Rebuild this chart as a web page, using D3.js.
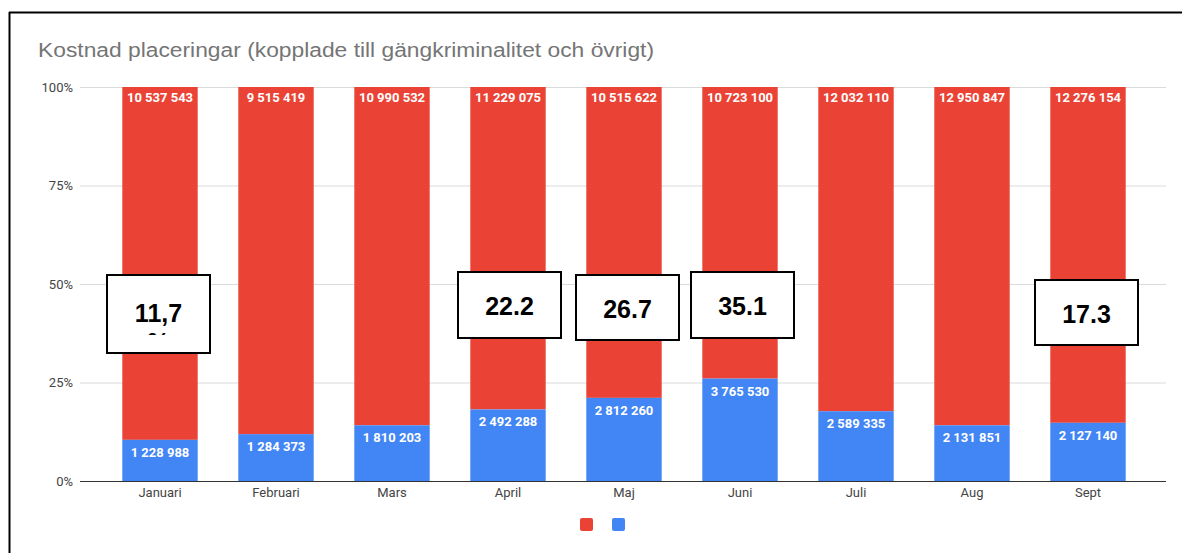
<!DOCTYPE html>
<html>
<head>
<meta charset="utf-8">
<style>
  html, body { margin: 0; padding: 0; background: #fff; }
  svg { display: block; font-family: Roboto, Arial, sans-serif; }
</style>
<script src="https://d3js.org/d3.v7.min.js"></script>
</head>
<body>
<div id="chart"></div>
<script>
var months = ["Januari", "Februari", "Mars", "April", "Maj", "Juni", "Juli", "Aug", "Sept"];
var red = [10537543, 9515419, 10990532, 11229075, 10515622, 10723100, 12032110, 12950847, 12276154];
var blue = [1228988, 1284373, 1810203, 2492288, 2812260, 3765530, 2589335, 2131851, 2127140];
var yTicks = [0, 0.25, 0.5, 0.75, 1];

// pasted-in boxes on top of the chart
var notes = [
  { month: "Januari", text: "11,7", x: 107, y: 275, w: 103, h: 78 },
  { month: "April", text: "22.2", x: 458, y: 272, w: 103, h: 66 },
  { month: "Maj", text: "26.7", x: 576, y: 275, w: 103, h: 65 },
  { month: "Juni", text: "35.1", x: 691, y: 272, w: 103, h: 66 },
  { month: "Sept", text: "17.3", x: 1035, y: 280, w: 103, h: 65 }
];

var w = 1182, h = 553;
var fmt = function(v) { return d3.format(",")(v).replace(/,/g, " "); };

var svg = d3.select("#chart").append("svg")
  .attr("width", w)
  .attr("height", h);

// frame of the screenshot
svg.append("line").attr("x1", 9).attr("x2", w).attr("y1", 12.5).attr("y2", 12.5)
  .attr("stroke", "#000").attr("stroke-width", 2);
svg.append("line").attr("x1", 9.5).attr("x2", 9.5).attr("y1", 12).attr("y2", h)
  .attr("stroke", "#000").attr("stroke-width", 2);

var title = svg.append("text")
  .attr("x", 38).attr("y", 57)
  .attr("fill", "#757575")
  .style("font-family", "'Liberation Sans', Arial, sans-serif")
  .style("font-size", "19.5px")
  .text("Kostnad placeringar (kopplade till gängkriminalitet och övrigt)");
title.attr("textLength", 616).attr("lengthAdjust", "spacingAndGlyphs");

var x = d3.scaleBand().domain(months).range([102, 1146]).paddingInner(0.35).paddingOuter(0.175);
var y = d3.scaleLinear().domain([0, 1]).range([481, 87]);

// grid
svg.append("g").selectAll("line").data(yTicks.slice(1)).enter().append("line")
  .attr("x1", 80).attr("x2", 1166)
  .attr("y1", d => y(d) + 0.5).attr("y2", d => y(d) + 0.5)
  .attr("stroke", "#dadada");

var yAxis = svg.append("g")
  .attr("transform", "translate(80,0)")
  .call(d3.axisLeft(y).tickValues(yTicks).tickFormat(d3.format(".0%")).tickSize(0).tickPadding(7));
yAxis.select(".domain").remove();
yAxis.selectAll("text").attr("fill", "#444").style("font-size", "13px").style("font-family", "Roboto, Arial, sans-serif");

var data = months.map((m, i) => ({ month: m, red: red[i], blue: blue[i], total: red[i] + blue[i] }));

var bars = svg.append("g").selectAll("g").data(data).enter().append("g");
bars.append("rect")
  .attr("x", d => x(d.month)).attr("width", x.bandwidth())
  .attr("y", y(1)).attr("height", d => y(d.blue / d.total) - y(1))
  .attr("fill", "#ea4335");
bars.append("rect")
  .attr("x", d => x(d.month)).attr("width", x.bandwidth())
  .attr("y", d => y(d.blue / d.total)).attr("height", d => y(0) - y(d.blue / d.total))
  .attr("fill", "#4285f4");
bars.append("text")
  .attr("x", d => x(d.month) + x.bandwidth() / 2)
  .attr("y", y(1) + 15)
  .attr("text-anchor", "middle").attr("fill", "#fff")
  .style("font-size", "13px").style("font-weight", "bold")
  .text(d => fmt(d.red));
bars.append("text")
  .attr("x", d => x(d.month) + x.bandwidth() / 2)
  .attr("y", d => y(d.blue / d.total) + 17)
  .attr("text-anchor", "middle").attr("fill", "#fff")
  .style("font-size", "13px").style("font-weight", "bold")
  .text(d => fmt(d.blue));

// baseline and month labels
svg.append("line").attr("x1", 80).attr("x2", 1166).attr("y1", y(0) + 0.5).attr("y2", y(0) + 0.5)
  .attr("stroke", "#333");
var xAxis = svg.append("g")
  .attr("transform", "translate(0," + y(0) + ")")
  .call(d3.axisBottom(x).tickSize(0).tickPadding(7));
xAxis.select(".domain").remove();
xAxis.selectAll("text").attr("fill", "#444").style("font-size", "13px").style("font-family", "Roboto, Arial, sans-serif");

// legend
svg.append("rect").attr("x", 580).attr("y", 518).attr("width", 13).attr("height", 13).attr("rx", 2).attr("fill", "#ea4335");
svg.append("rect").attr("x", 612).attr("y", 518).attr("width", 13).attr("height", 13).attr("rx", 2).attr("fill", "#4285f4");

// boxes
var defs = svg.append("defs");
var boxes = svg.append("g").selectAll("g").data(notes).enter().append("g");
boxes.each(function(d, i) {
  defs.append("clipPath").attr("id", "clip" + i)
    .append("rect").attr("x", d.x).attr("y", d.y).attr("width", d.w).attr("height", d.h - 18);
});
boxes.append("rect")
  .attr("x", d => d.x).attr("y", d => d.y).attr("width", d => d.w).attr("height", d => d.h)
  .attr("fill", "#fff").attr("stroke", "#000").attr("stroke-width", 2);
boxes.append("text")
  .attr("x", d => d.x + d.w / 2)
  .attr("y", d => d.month === "Januari" ? d.y + 47 : d.y + d.h / 2 + 10)
  .attr("text-anchor", "middle").attr("fill", "#000")
  .style("font-family", "'Liberation Sans', Arial, sans-serif")
  .style("font-size", "25px").style("font-weight", "bold")
  .text(d => d.text);
// the cut off percent sign under 11,7
boxes.filter(d => d.month === "Januari").append("text")
  .attr("x", d => d.x + d.w / 2)
  .attr("y", d => d.y + 76)
  .attr("clip-path", "url(#clip0)")
  .attr("text-anchor", "middle").attr("fill", "#000")
  .style("font-family", "'Liberation Sans', Arial, sans-serif")
  .style("font-size", "25px").style("font-weight", "bold")
  .text("%");
</script>
</body>
</html>
